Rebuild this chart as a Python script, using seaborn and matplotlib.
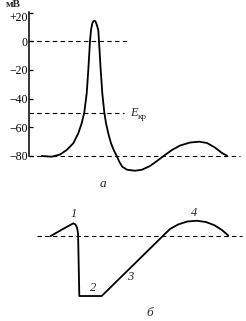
import matplotlib
matplotlib.use('Agg')
import matplotlib.pyplot as plt
import matplotlib.transforms as mtransforms
import seaborn as sns
import pandas as pd

# top trace (a): membrane potential, mV
t_a = [1.27, 2.27, 3.1, 3.77, 4.43, 4.93, 5.27, 5.53, 5.77, 5.93, 6.1, 6.2, 6.33, 6.43, 6.53,
       6.63, 6.73, 6.93, 7.0, 7.17, 7.33, 7.53, 7.7, 7.95, 8.2, 8.5, 8.77, 9.05, 9.33, 9.8,
       10.6, 11.3, 12.1, 12.8, 13.5, 14.3, 15.1, 16.1, 17.0, 17.8, 18.6, 19.3, 19.8]
v_a = [-80.2, -80.7, -79.2, -76, -71.3, -64.3, -57.3, -49.7, -36.4, -20.1, 0.2, 7.9, 12.6, 14.0, 14.4,
       14.0, 12.6, 7.9, 0, -20, -36.4, -49.7, -57.3, -65, -71.3, -76.5, -80.2, -84.5, -87.7, -89.8,
       -90.5, -89.8, -87.2, -83.7, -80, -76, -72.9, -70.8, -70.2, -71.1, -74.3, -78.1, -80]
yticks = [20, 0, -20, -40, -60, -80]
ytick_labels = ['+20', '0', '\u221220', '\u221240', '\u221260', '\u221280']
e_kr = -50

# bottom trace (б), arbitrary units
t_b = [2.17, 3.3, 4.43, 4.65, 4.8, 4.9, 4.93, 4.98, 5.03, 7.27, 13.43, 14.1, 14.9, 15.8,
       16.77, 17.7, 18.5, 19.3, 19.93]
v_b = [0, 0.65, 1.27, 1.15, 0.85, 0.3, -0.9, -3.4, -6.0, -6.0, 0.05, 0.7, 1.15, 1.45,
       1.53, 1.4, 1.1, 0.6, 0.05]
phase_labels = ['1', '2', '3', '4']
phase_t = [4.43, 6.43, 10.1, 16.5]
phase_v = [2.2, -5.23, -4.1, 2.33]

sns.set_theme(style='white')
plt.rcParams['font.family'] = ['Liberation Serif', 'DejaVu Serif']

fig = plt.figure(figsize=(2.46, 3.21), dpi=100)

# --- panel a ---
ax1 = fig.add_axes([0.1179, 0.4517, 0.8821, 0.51])
df_a = pd.DataFrame({'t': t_a, 'v': v_a})
sns.lineplot(data=df_a, x='t', y='v', ax=ax1, sort=False, estimator=None,
             color='black', linewidth=1.3)
dash = dict(color='black', linewidth=0.8, linestyle=(0, (4, 3)))
ax1.plot([0, 9.9], [0, 0], **dash)
ax1.plot([0, 9.5], [e_kr, e_kr], **dash)
ax1.plot([0, 21.1], [-80, -80], **dash)
ax1.text(10.15, e_kr, 'E', fontsize=9, style='italic', va='center', ha='left')
ax1.text(10.85, e_kr - 2.8, '\u043a\u0440', fontsize=6.5, va='center', ha='left')

ax1.set_xlim(0, 21.7)
ax1.set_ylim(-94.2, 20.3)
ax1.set_yticks(yticks)
ax1.set_yticklabels(ytick_labels, fontsize=8.5)
ax1.set_xticks([])
ax1.set_xlabel('')
ax1.set_ylabel('')
for s in ['top', 'right', 'bottom']:
    ax1.spines[s].set_visible(False)
ax1.spines['left'].set_bounds(-80, 20.3)
ax1.spines['left'].set_linewidth(1.1)
ax1.spines['left'].set_color('black')
ax1.tick_params(axis='y', direction='in', length=3, width=0.9, pad=1,
                left=True, colors='black')
# the +20 label sits a little below its tick in the original
top_lab = ax1.get_yticklabels()[0]
top_lab.set_transform(top_lab.get_transform() +
                      mtransforms.ScaledTranslation(0, -3.5 / 100, fig.dpi_scale_trans))
fig.text(13 / 246, 1 - 4.5 / 321, '\u043c\u0412', fontsize=8, weight='bold',
         ha='center', va='center')
fig.text(103 / 246, 1 - 184 / 321, '\u0430', fontsize=9.5, style='italic',
         ha='center', va='center')

# --- panel б ---
ax2 = fig.add_axes([0.1179, 0.0498, 0.8821, 0.327])
df_b = pd.DataFrame({'t': t_b, 'v': v_b})
sns.lineplot(data=df_b, x='t', y='v', ax=ax2, sort=False, estimator=None,
             color='black', linewidth=1.3)
ax2.plot([0.8, 21.3], [0, 0], **dash)
for lab, x, y in zip(phase_labels, phase_t, phase_v):
    ax2.text(x, y, lab, fontsize=9, style='italic', ha='center', va='center')
ax2.set_xlim(0, 21.7)
ax2.set_ylim(-6.9, 3.6)
ax2.axis('off')
fig.text(150 / 246, 1 - 313 / 321, '\u0431', fontsize=9.5, style='italic',
         ha='center', va='center')

fig.savefig('out.png', dpi=100)
